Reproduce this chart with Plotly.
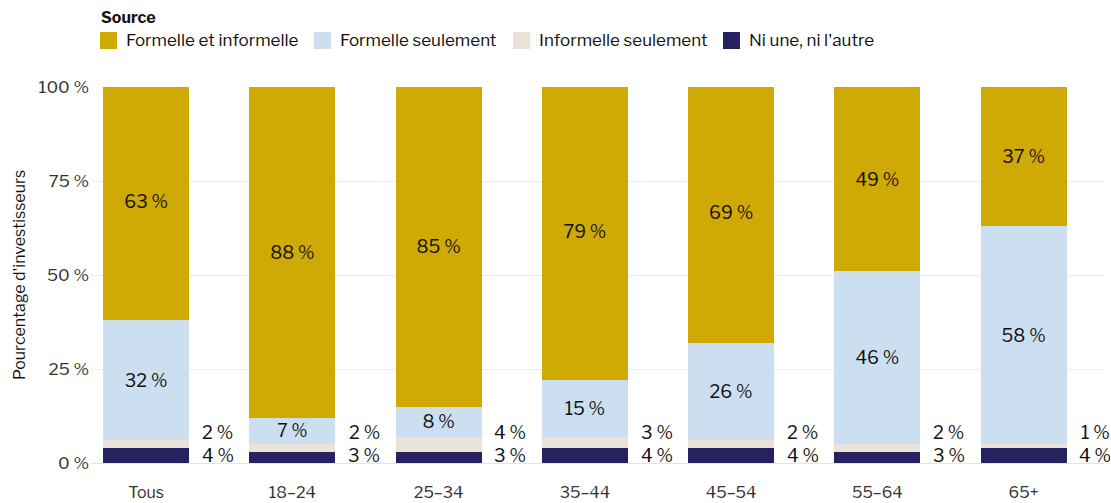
import plotly.graph_objects as go

categories = ["Tous", "18–24", "25–34", "35–44", "45–54", "55–64", "65+"]
ni_une = [4, 3, 3, 4, 4, 3, 4]
informelle = [2, 2, 4, 3, 2, 2, 1]
formelle = [32, 7, 8, 15, 26, 46, 58]
formelle_et_informelle = [63, 88, 85, 79, 69, 49, 37]

series = [
    ("Ni une, ni l'autre", ni_une, "#262262", False),
    ("Informelle seulement", informelle, "#EAE2D8", False),
    ("Formelle seulement", formelle, "#CCDFF0", True),
    ("Formelle et informelle", formelle_et_informelle, "#CFA904", True),
]

FONT = "Libre Franklin, Roboto, Arial, sans-serif"

# plot area in pixels (used to place the hand-drawn legend)
W, H = 1111, 503
PL, PR, PT, PB = 90, 1104, 87, 463


def pct(v):
    return f"{v} %"


def px_x(px):
    return (px - PL) / (PR - PL)


def px_y(py):
    return (PB - py) / (PB - PT)


fig = go.Figure()
for name, vals, color, labelled in series:
    fig.add_trace(go.Bar(
        name=name,
        x=categories,
        y=vals,
        marker=dict(color=color, line=dict(width=0)),
        width=0.588,
        text=[pct(v) for v in vals] if labelled else None,
        textposition="inside" if labelled else "none",
        insidetextanchor="middle",
        textangle=0,
        textfont=dict(size=18, color="#111111", family=FONT),
        hoverinfo="skip",
        showlegend=False,
    ))

# Small segments are labelled beside each bar
for i, cat in enumerate(categories):
    for val, ypos in ((informelle[i], 8), (ni_une[i], 2.1)):
        fig.add_annotation(
            x=i + 0.49, y=ypos, xref="x", yref="y",
            text=pct(val), showarrow=False,
            font=dict(size=18, color="#111111", family=FONT),
            xanchor="center", yanchor="middle",
        )

# Legend: title plus one row of square swatches
fig.add_annotation(
    x=px_x(99), y=px_y(17), xref="paper", yref="paper",
    text="<b>Source</b>", showarrow=False, xanchor="left", yanchor="middle",
    font=dict(size=16, color="#111111", family=FONT),
)
legend_items = [
    ("Formelle et informelle", "#CFA904", 100),
    ("Formelle seulement", "#CCDFF0", 314),
    ("Informelle seulement", "#EAE2D8", 513),
    ("Ni une, ni l'autre", "#262262", 723),
]
for label, color, x0 in legend_items:
    fig.add_shape(
        type="rect", xref="paper", yref="paper",
        x0=px_x(x0), x1=px_x(x0 + 17), y0=px_y(49), y1=px_y(32),
        fillcolor=color, line=dict(width=0), layer="above",
    )
    fig.add_annotation(
        x=px_x(x0 + 24), y=px_y(40.5), xref="paper", yref="paper",
        text=label, showarrow=False, xanchor="left", yanchor="middle",
        font=dict(size=17, color="#111111", family=FONT),
    )

fig.update_layout(
    barmode="stack",
    width=W, height=H,
    margin=dict(l=PL, r=W - PR, t=PT, b=H - PB),
    paper_bgcolor="white",
    plot_bgcolor="white",
    font=dict(family=FONT, size=16, color="#333333"),
    showlegend=False,
    xaxis=dict(
        range=[-0.384, 6.55],
        automargin=False,
        showgrid=False,
        showline=False,
        ticks="",
        ticklabelstandoff=18,
        tickfont=dict(size=16, color="#333333"),
    ),
    yaxis=dict(
        range=[0, 100],
        automargin=False,
        tickvals=[0, 25, 50, 75, 100],
        ticktext=["0 %", "25 %", "50 %", "75 %", "100 %"],
        showgrid=True,
        gridcolor="#ECECEC",
        gridwidth=1,
        zeroline=True,
        zerolinecolor="#E4E4E4",
        zerolinewidth=1,
        ticks="",
        ticklen=0,
        tickfont=dict(size=17, color="#333333"),
        title=dict(text="Pourcentage d'investisseurs",
                   font=dict(size=16, color="#111111"), standoff=8),
    ),
)

fig.write_html("out.html")
